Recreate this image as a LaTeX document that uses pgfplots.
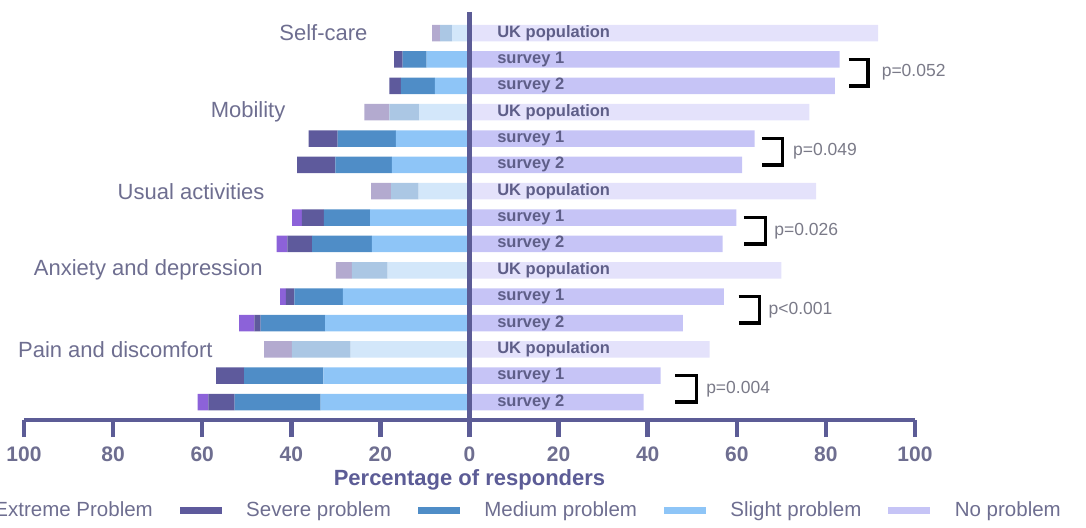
\documentclass[border=0pt]{standalone}
\usepackage{fontspec}
\setmainfont{Liberation Sans}
\usepackage{pgfplots}
\usepackage{pgfplotstable}
\pgfplotsset{compat=1.18}
\usetikzlibrary{calc}

\definecolor{extc}{HTML}{8C62D9}
\definecolor{sevc}{HTML}{5E5A9C}
\definecolor{medc}{HTML}{4F8DC7}
\definecolor{slic}{HTML}{8EC5F7}
\definecolor{noc}{HTML}{C6C4F6}
\definecolor{sevu}{HTML}{B3AACF}
\definecolor{medu}{HTML}{ABC7E4}
\definecolor{sliu}{HTML}{D3E7FA}
\definecolor{nou}{HTML}{E4E2FB}
\definecolor{axc}{HTML}{5C5C96}
\definecolor{txc}{HTML}{6E6E90}
\definecolor{inc}{HTML}{5E5E88}
\definecolor{pc}{HTML}{7A7A88}

% UK population, left side (problems)
\pgfplotstableread{
row slight medium severe
1  3.9  2.7 1.8
4  11.3 6.7 5.6
7  11.4 6.2 4.5
10 18.4 8.0 3.6
13 26.7 13.2 6.2
}\ukleft

% surveys, left side (problems)
\pgfplotstableread{
row slight medium severe extreme
2  9.6  5.4  1.9 0
3  7.8  7.6  2.6 0
5  16.5 13.1 6.5 0
6  17.4 12.7 8.6 0
8  22.3 10.4 4.9 2.2
9  21.9 13.4 5.6 2.4
11 28.4 10.9 1.9 1.3
12 32.4 14.5 1.4 3.4
14 32.8 17.8 6.3 0
15 33.4 19.3 5.9 2.4
}\survleft

\pgfplotstableread{
row none
1  91.7
4  76.3
7  77.8
10 70.0
13 53.9
}\uknone

\pgfplotstableread{
row none
2  83.1
3  82.0
5  64.0
6  61.2
8  59.9
9  56.8
11 57.1
12 47.9
14 42.9
15 39.1
}\survnone

\pgfplotsset{base/.style={width=891pt, height=408pt, scale only axis,
  xmin=-100, xmax=100, ymin=0.2, ymax=15.68, y dir=reverse,
  bar width=16.5pt, bar shift=0pt}}

\begin{document}
\begin{tikzpicture}
% UK population problems
\begin{axis}[base, hide axis, xbar stacked]
\addplot[fill=sliu, draw=none] table[x expr=-\thisrow{slight}, y=row]{\ukleft};
\addplot[fill=medu, draw=none] table[x expr=-\thisrow{medium}, y=row]{\ukleft};
\addplot[fill=sevu, draw=none] table[x expr=-\thisrow{severe}, y=row]{\ukleft};
\end{axis}
% survey problems
\begin{axis}[base, hide axis, xbar stacked]
\addplot[fill=slic, draw=none] table[x expr=-\thisrow{slight}, y=row]{\survleft};
\addplot[fill=medc, draw=none] table[x expr=-\thisrow{medium}, y=row]{\survleft};
\addplot[fill=sevc, draw=none] table[x expr=-\thisrow{severe}, y=row]{\survleft};
\addplot[fill=extc, draw=none] table[x expr=-\thisrow{extreme}, y=row]{\survleft};
\end{axis}
% no problem + axis decorations
\begin{axis}[base, name=ax, clip=false, axis on top,
  axis x line=bottom, axis y line=none,
  x axis line style={-, line width=4.5pt, draw=axc},
  xtick={-100,-80,-60,-40,-20,0,20,40,60,80,100},
  xticklabels={100,80,60,40,20,0,20,40,60,80,100},
  tick align=outside, major tick length=17pt,
  tick style={line width=4.5pt, draw=axc},
  xticklabel style={font=\bfseries\fontsize{21}{25}\selectfont, text=txc, inner sep=0pt, yshift=-10pt},
  extra x ticks={0}, extra x tick labels={},
  extra x tick style={grid=major, major grid style={line width=4.5pt, draw=axc}},
  ytick=\empty,
  xlabel={Percentage of responders},
  xlabel style={at={(axis description cs:0.5,0)}, anchor=base, yshift=-65pt, inner sep=0pt,
    font=\bfseries\fontsize{22}{26}\selectfont, text=axc},
  legend columns=5,
  legend style={draw=none, fill=none, inner sep=0pt, at={(1.1639,-0.2206)}, anchor=east,
    font=\fontsize{20.5}{24}\selectfont, text=txc,
    nodes={inner sep=0pt},
    /tikz/every odd column/.append style={column sep=25pt},
    /tikz/every even column/.append style={column sep=27pt}},
]
\addlegendimage{legend image code/.code={\fill[extc] (0pt,-3pt) rectangle (41pt,3pt);}}
\addlegendimage{legend image code/.code={\fill[sevc] (0pt,-3pt) rectangle (41pt,3pt);}}
\addlegendimage{legend image code/.code={\fill[medc] (0pt,-3pt) rectangle (41pt,3pt);}}
\addlegendimage{legend image code/.code={\fill[slic] (0pt,-3pt) rectangle (41pt,3pt);}}
\addlegendimage{legend image code/.code={\fill[noc] (0pt,-3pt) rectangle (41pt,3pt);}}
\legend{Extreme Problem, Severe problem, Medium problem, Slight problem, No problem}

\addplot[xbar, fill=nou, draw=none, forget plot] table[x=none, y=row]{\uknone};
\addplot[xbar, fill=noc, draw=none, forget plot] table[x=none, y=row]{\survnone};

% brackets
\addplot[black, line width=3.5pt, line join=miter, forget plot] coordinates {(85.1,2) (89.5,2) (89.5,3) (85.1,3)};
\addplot[black, line width=3.5pt, line join=miter, forget plot] coordinates {(65.6,5) (70.3,5) (70.3,6) (65.6,6)};
\addplot[black, line width=3.5pt, line join=miter, forget plot] coordinates {(61.6,8) (66.4,8) (66.4,9) (61.6,9)};
\addplot[black, line width=3.5pt, line join=miter, forget plot] coordinates {(60.4,11) (65.1,11) (65.1,12) (60.4,12)};
\addplot[black, line width=3.5pt, line join=miter, forget plot] coordinates {(46.2,14) (50.9,14) (50.9,15) (46.2,15)};

% category labels
\begin{scope}[every node/.style={font=\fontsize{22}{26}\selectfont, text=txc}]
\node at (axis cs:-32.8,1) {Self-care};
\node at (axis cs:-49.7,4) {Mobility};
\node at (axis cs:-62.5,7) {Usual activities};
\node at (axis cs:-72.1,10) {Anxiety and depression};
\node at (axis cs:-79.5,13) {Pain and discomfort};
\end{scope}
% in-bar labels
\begin{scope}[every node/.style={anchor=west, inner sep=0pt, font=\bfseries\fontsize{16.5}{19}\selectfont, text=inc}]
\node at (axis cs:6.2,1) {UK population};
\node at (axis cs:6.2,2) {survey 1};
\node at (axis cs:6.2,3) {survey 2};
\node at (axis cs:6.2,4) {UK population};
\node at (axis cs:6.2,5) {survey 1};
\node at (axis cs:6.2,6) {survey 2};
\node at (axis cs:6.2,7) {UK population};
\node at (axis cs:6.2,8) {survey 1};
\node at (axis cs:6.2,9) {survey 2};
\node at (axis cs:6.2,10) {UK population};
\node at (axis cs:6.2,11) {survey 1};
\node at (axis cs:6.2,12) {survey 2};
\node at (axis cs:6.2,13) {UK population};
\node at (axis cs:6.2,14) {survey 1};
\node at (axis cs:6.2,15) {survey 2};
\end{scope}
% p-values
\begin{scope}[every node/.style={anchor=west, inner sep=0pt, font=\fontsize{17.5}{21}\selectfont, text=pc}]
\node at (axis cs:92.5,2.5) {p=0.052};
\node at (axis cs:72.6,5.5) {p=0.049};
\node at (axis cs:68.4,8.5) {p=0.026};
\node at (axis cs:67.1,11.5) {p<0.001};
\node at (axis cs:53.1,14.5) {p=0.004};
\end{scope}
\end{axis}
\pgfresetboundingbox
\path[use as bounding box] ($(ax.south west)+(-24pt,-107pt)$) rectangle ($(ax.north east)+(171pt,12pt)$);
\end{tikzpicture}
\end{document}
